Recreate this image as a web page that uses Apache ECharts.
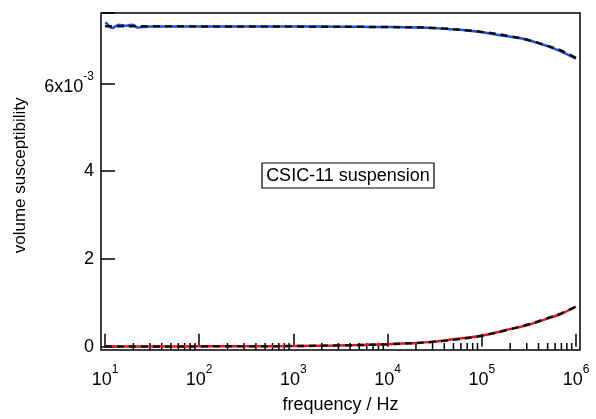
<!DOCTYPE html>
<html>
<head>
<meta charset="utf-8">
<script src="https://cdn.jsdelivr.net/npm/echarts@6/dist/echarts.min.js"></script>
<style>
  html, body { margin: 0; padding: 0; background: #fff; }
  #chart { width: 596px; height: 419px; }
</style>
</head>
<body>
<div id="chart"></div>
<script>
// measured real part (blue), values in 1e-3
var realData = [
    [10, 7.38], [10.5, 7.36], [11.2, 7.28], [12, 7.26], [13, 7.30], [14, 7.33],
    [15.5, 7.32], [17, 7.31], [19, 7.33], [20.5, 7.32], [22, 7.27], [25, 7.28],
    [30, 7.29], [40, 7.29], [60, 7.29], [100, 7.29], [200, 7.29], [500, 7.29],
    [1000, 7.29], [2000, 7.29], [5000, 7.285], [10000, 7.28], [20000, 7.27],
    [30000, 7.26], [46000, 7.23], [70000, 7.20], [100000, 7.16], [150000, 7.10],
    [234000, 7.04], [316000, 6.98], [417000, 6.90], [526000, 6.83], [700000, 6.72],
    [1000000, 6.56]
];
// measured imaginary part (red)
var imagData = [
    [10, 0.01], [20, 0.005], [50, 0.005], [100, 0.008], [300, 0.01], [1000, 0.015],
    [3000, 0.03], [10000, 0.055], [17000, 0.077], [30000, 0.11], [50000, 0.17],
    [100000, 0.25], [200000, 0.40], [316000, 0.50], [500000, 0.64], [700000, 0.75],
    [1000000, 0.91]
];
// fitted curves (black dashed)
var fitReal = [
    [10, 7.30], [100, 7.295], [1000, 7.29], [10000, 7.28], [30000, 7.26],
    [100000, 7.17], [200000, 7.07], [316000, 6.98], [500000, 6.85], [700000, 6.74],
    [1000000, 6.58]
];
var fitImag = [
    [10, 0.005], [100, 0.007], [1000, 0.015], [3000, 0.03], [10000, 0.055],
    [30000, 0.11], [50000, 0.16], [100000, 0.25], [200000, 0.40], [316000, 0.51],
    [500000, 0.65], [700000, 0.76], [1000000, 0.92]
];
var minorTicks = [
    20, 30, 40, 50, 60, 70, 80, 90,
    200, 300, 400, 500, 600, 700, 800, 900,
    2000, 3000, 4000, 5000, 6000, 7000, 8000, 9000,
    20000, 30000, 40000, 50000, 60000, 70000, 80000, 90000,
    200000, 300000, 400000, 500000, 600000, 700000, 800000, 900000
];
var yTickValues = [0, 2, 4, 6];
var yTickTexts = ['0', '2', '4', '{b|6x10}{s|-3}'];

var font = "'Liberation Sans', Arial, sans-serif";
// base text sits at the bottom of a taller box, exponent at the top
var richLabel = {
    b: { fontSize: 18, lineHeight: 25, verticalAlign: 'bottom', fontFamily: font, color: '#000' },
    s: { fontSize: 12, lineHeight: 12, verticalAlign: 'top', fontFamily: font, color: '#000' }
};

var myChart = echarts.init(document.getElementById('chart'));

var option = {
    animation: false,
    backgroundColor: '#fff',
    grid: {
        left: 105,
        right: 20,
        top: 13,
        bottom: 72.3
    },
    xAxis: {
        type: 'log',
        logBase: 10,
        min: 10,
        max: 1000000,
        offset: 3.3,
        name: 'frequency / Hz',
        nameLocation: 'middle',
        nameGap: 46,
        nameTextStyle: { fontSize: 18, fontFamily: font, color: '#000' },
        axisLine: { show: false },
        axisTick: { inside: true, length: 13, lineStyle: { color: '#000', width: 1.5 } },
        splitLine: { show: false },
        axisLabel: {
            margin: 14,
            fontSize: 18,
            fontFamily: font,
            color: '#000',
            rich: richLabel,
            formatter: function (v) {
                var e = Math.round(Math.log(v) / Math.LN10);
                return '{b|10}{s|' + e + '}';
            }
        }
    },
    yAxis: {
        type: 'value',
        min: 0,
        max: 7.6,
        interval: 2,
        offset: 4,
        name: 'volume susceptibility',
        nameLocation: 'middle',
        nameGap: 72,
        nameRotate: 90,
        nameTextStyle: { fontSize: 17, fontFamily: font, color: '#000', padding: [0, 0, 0, 9] },
        axisLine: { show: false },
        axisTick: { inside: true, length: 14, lineStyle: { color: '#000', width: 1.5 } },
        splitLine: { show: false },
        axisLabel: {
            margin: 7,
            fontSize: 18,
            fontFamily: font,
            color: '#000',
            rich: richLabel,
            formatter: function (v) {
                for (var i = 0; i < yTickValues.length; i++) {
                    if (Math.abs(v - yTickValues[i]) < 1e-9) return yTickTexts[i];
                }
                return '';
            }
        }
    },
    graphic: [
        {
            type: 'rect',
            z: 100,
            shape: { x: 101, y: 13, width: 479, height: 337 },
            style: { fill: 'none', stroke: '#000', lineWidth: 1.5 }
        },
        {
            type: 'group',
            z: 100,
            children: [
                {
                    type: 'rect',
                    shape: { x: 262, y: 163, width: 172, height: 25 },
                    style: { fill: '#fff', stroke: '#000', lineWidth: 1.2 }
                },
                {
                    type: 'text',
                    x: 348,
                    y: 176,
                    style: {
                        text: 'CSIC-11 suspension',
                        fontSize: 18,
                        fontFamily: font,
                        fill: '#000',
                        align: 'center',
                        verticalAlign: 'middle'
                    }
                }
            ]
        }
    ],
    series: [
        {
            type: 'line',
            data: realData,
            smooth: 0.3,
            symbol: 'none',
            lineStyle: { color: '#1f4fe6', width: 2.5 }
        },
        {
            type: 'line',
            data: fitReal,
            smooth: 0.4,
            symbol: 'none',
            lineStyle: { color: '#111', width: 2.5, type: [7, 5] }
        },
        {
            type: 'line',
            data: imagData,
            smooth: 0.3,
            symbol: 'none',
            lineStyle: { color: '#e6141c', width: 2.5 }
        },
        {
            type: 'line',
            data: fitImag,
            smooth: 0.4,
            symbol: 'none',
            lineStyle: { color: '#111', width: 2.5, type: [7, 5] }
        },
        {
            type: 'custom',
            data: minorTicks.map(function (t) { return [t, 0]; }),
            clip: false,
            silent: true,
            renderItem: function (params, api) {
                var p = api.coord([api.value(0), 0]);
                var base = p[1] + 3.3;
                return {
                    type: 'line',
                    shape: { x1: p[0], y1: base, x2: p[0], y2: base - 7 },
                    style: { stroke: '#000', lineWidth: 1.5 }
                };
            }
        }
    ]
};

myChart.setOption(option);
window.addEventListener('resize', function () {
    myChart.resize();
});
</script>
</body>
</html>
